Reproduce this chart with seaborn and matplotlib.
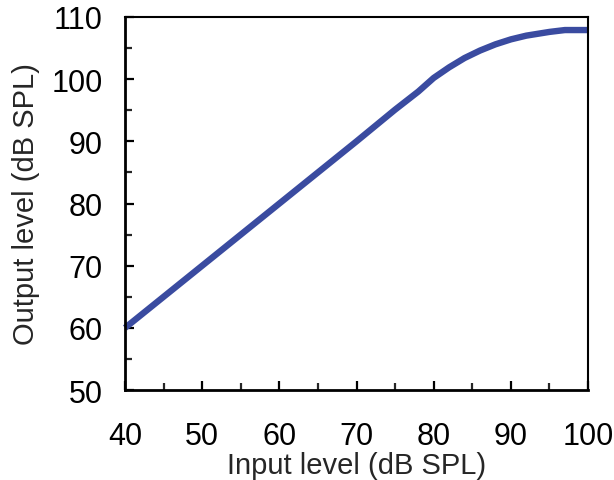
import numpy as np
import pandas as pd
import seaborn as sns
from matplotlib import pyplot as plt
from matplotlib.ticker import MultipleLocator

sns.set_style('white')
plt.rcParams['font.family'] = ['Liberation Sans', 'DejaVu Sans']

# input/output curve
input_level = [40, 45, 50, 55, 60, 65, 70, 75, 78, 80, 82, 84, 86, 88, 90, 92, 95, 97, 100]
output_level = [60, 65, 70, 75, 80, 85, 90, 95.1, 98.0, 100.2, 101.9, 103.4, 104.6, 105.6, 106.4, 107.0, 107.6, 107.9, 107.9]

frame = pd.DataFrame({'input': input_level, 'output': output_level})

fig = plt.figure(figsize=(6.14, 4.81), dpi=100)
ax = fig.add_axes([0.2036, 0.187, 0.7541, 0.7756])

sns.lineplot(data=frame, x='input', y='output', ax=ax, color='#3A4BA0', linewidth=4.6,
             clip_on=False, solid_capstyle='butt', solid_joinstyle='round')

ax.set_xlim(40, 100)
ax.set_ylim(50, 110)
ax.xaxis.set_major_locator(MultipleLocator(10))
ax.xaxis.set_minor_locator(MultipleLocator(5))
ax.yaxis.set_major_locator(MultipleLocator(10))
ax.yaxis.set_minor_locator(MultipleLocator(5))

ax.tick_params(axis='both', which='major', direction='in', length=6.5, width=1.6,
               labelsize=22, colors='black', bottom=True, left=True, top=False, right=False)
ax.tick_params(axis='both', which='minor', direction='in', length=5, width=1.6,
               bottom=True, left=True, top=False, right=False)
ax.tick_params(axis='x', which='major', pad=22)
ax.tick_params(axis='y', which='major', pad=16)

for side in ['left', 'bottom']:
    ax.spines[side].set_linewidth(2.0)
    ax.spines[side].set_color('black')
for side in ['top', 'right']:
    ax.spines[side].set_linewidth(1.5)
    ax.spines[side].set_color('black')

ax.set_xlabel('Input level (dB SPL)', fontsize=21, labelpad=0)
ax.set_ylabel('Output level (dB SPL)', fontsize=21, labelpad=8)

fig.savefig('out.png', dpi=100)
